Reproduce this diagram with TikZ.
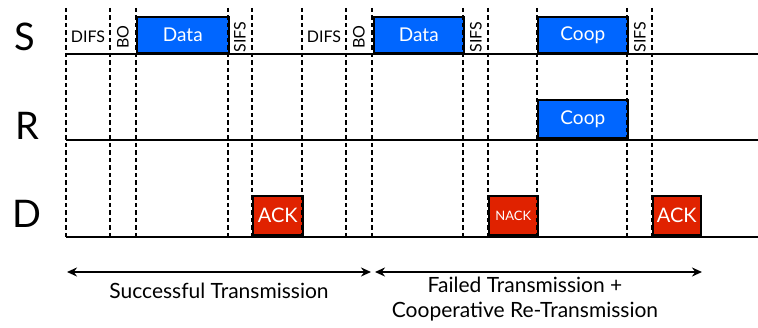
\documentclass[tikz,border=0pt]{standalone}
\usepackage{fontspec}
\setmainfont{Lato}
\usetikzlibrary{arrows.meta}
\definecolor{boxblue}{RGB}{0,102,255}
\definecolor{boxred}{RGB}{224,34,0}
\begin{document}
\begin{tikzpicture}[x=1pt,y=-1pt,
  lane/.style={line width=2.2pt},
  vdash/.style={line width=2.8pt, dash pattern=on 4.5pt off 3pt},
  pkt/.style={draw=black, line width=1.6pt, text=white, inner sep=0pt, anchor=south west},
  blubox/.style={pkt, fill=boxblue, font=\fontsize{19}{21}\selectfont},
  redbox/.style={pkt, fill=boxred, font=\fontsize{20}{22}\selectfont},
  gaplabel/.style={font=\fontsize{16}{18}\selectfont, inner sep=0pt},
  rgaplabel/.style={gaplabel, rotate=90},
  who/.style={font=\fontsize{38}{40}\selectfont, inner sep=0pt},
  captext/.style={font=\fontsize{21}{25}\selectfont, align=center, inner sep=0pt},
  spanarrow/.style={line width=2.4pt, {Stealth[length=10pt,width=9pt]}-{Stealth[length=10pt,width=9pt]}}
]
\useasboundingbox (0,0) rectangle (758,328);
% boxes
\node[blubox, minimum width=92, minimum height=36] (data1) at (136,54) {Data};
\node[blubox, minimum width=90, minimum height=36] (data2) at (373,54) {Data};
\node[blubox, minimum width=90, minimum height=36] (coopS) at (537,54) {Coop};
\node[blubox, minimum width=90, minimum height=38] (coopR) at (537,139) {Coop};
\node[redbox, minimum width=50, minimum height=39] (ack1) at (252,236) {ACK};
\node[redbox, minimum width=49, minimum height=39, font=\fontsize{13}{15}\selectfont] (nack) at (488,236) {NACK};
\node[redbox, minimum width=48, minimum height=39] (ack2) at (652,236) {ACK};
% lanes
\coordinate (sL) at (66,54); \coordinate (sR) at (758,54);
\coordinate (rL) at (66,140); \coordinate (rR) at (758,140);
\coordinate (dL) at (66,237); \coordinate (dR) at (758,237);
\draw[lane] (sL) -- (sR);
\draw[lane] (rL) -- (rR);
\draw[lane] (dL) -- (dR);
% dashed time marks
\foreach \x [count=\i] in {66,110,136,228,252,302,346,372,463,488,537,627,652}{
  \coordinate (t\i) at (\x,8);
  \coordinate (b\i) at (\x,237);
  \draw[vdash] (t\i) -- (b\i);
}
% lane names
\node[who] (S) at (25,37) {S};
\node[who] (R) at (27,126) {R};
\node[who] (D) at (27,214) {D};
% gap labels
\node[gaplabel] (difs1) at (88,37) {DIFS};
\node[rgaplabel] (bo1) at (123,37) {BO};
\node[rgaplabel] (sifs1) at (240,37) {SIFS};
\node[gaplabel] (difs2) at (324,37) {DIFS};
\node[rgaplabel] (bo2) at (359,37) {BO};
\node[rgaplabel] (sifs2) at (476,37) {SIFS};
\node[rgaplabel] (sifs3) at (640,37) {SIFS};
% spans
\coordinate (a1l) at (67,272); \coordinate (a1r) at (371,272);
\coordinate (a2l) at (375,272); \coordinate (a2r) at (702,272);
\draw[spanarrow] (a1l) -- (a1r);
\draw[spanarrow] (a2l) -- (a2r);
\node[captext] (succ) at (219,291) {Successful Transmission};
\node[captext] (fail) at (525,299) {Failed Transmission +\\Cooperative Re-Transmission};
\end{tikzpicture}
\end{document}
